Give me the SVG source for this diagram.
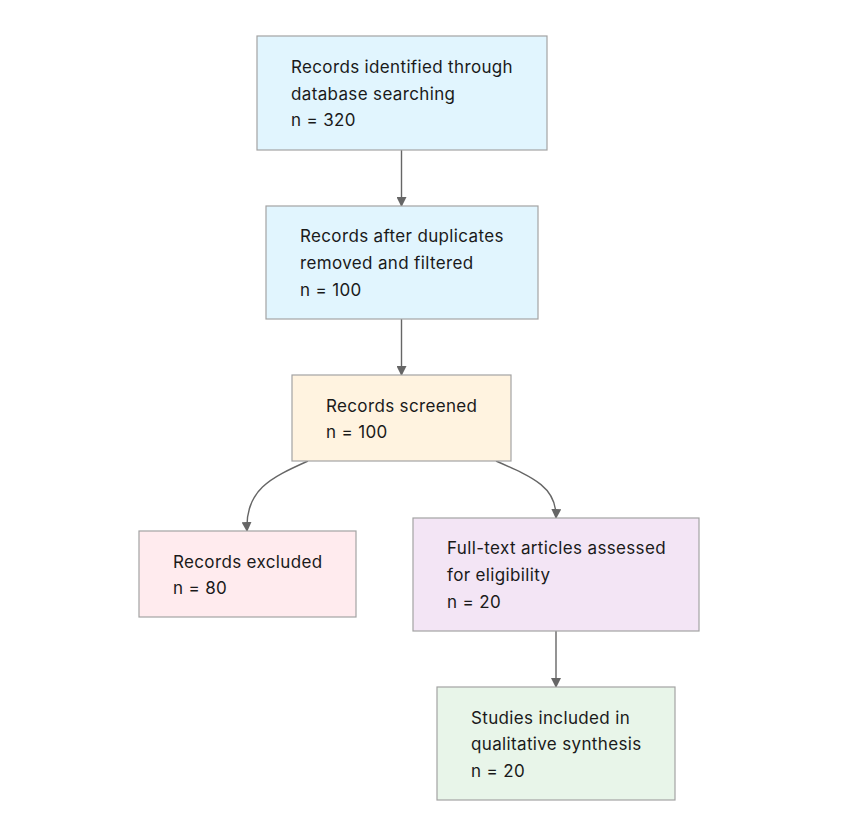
<svg xmlns="http://www.w3.org/2000/svg" width="854" height="826" viewBox="0 0 854 826">
<style>
rect{stroke:#a3a3a3;stroke-width:1.2}
text{font-family:Inter,"Liberation Sans",sans-serif;font-size:17px;letter-spacing:0.35px;fill:#1a1a1a}
.c{fill:none;stroke:#666;stroke-width:1.4}
</style>
<defs>
<marker id="a" viewBox="0 0 10 10" refX="9" refY="5" markerWidth="10" markerHeight="10" orient="auto" markerUnits="userSpaceOnUse"><path d="M0,0L10,5L0,10z" fill="#666"/></marker>
</defs>
<rect width="854" height="826" fill="#fff" style="stroke:none"/>
<g id="connectors">
<path class="c" d="M401.5,150V206" marker-end="url(#a)"/>
<path class="c" d="M401.5,319V375" marker-end="url(#a)"/>
<path class="c" d="M308,461C270,478 245,490 247,531" marker-end="url(#a)"/>
<path class="c" d="M496,461C535,478 557,488 556,518" marker-end="url(#a)"/>
<path class="c" d="M556,631V687" marker-end="url(#a)"/>
</g>
<g id="n1"><rect x="257" y="36" width="290" height="114" fill="#e1f5fe"/>
<text x="291" y="73">Records identified through</text><text x="291" y="100">database searching</text><text x="291" y="126">n = 320</text></g>
<g id="n2"><rect x="266" y="206" width="272" height="113" fill="#e1f5fe"/>
<text x="300" y="242">Records after duplicates</text><text x="300" y="269">removed and filtered</text><text x="300" y="296">n = 100</text></g>
<g id="n3"><rect x="292" y="375" width="219" height="86" fill="#fff3e0"/>
<text x="326" y="412">Records screened</text><text x="326" y="438">n = 100</text></g>
<g id="n4"><rect x="139" y="531" width="217" height="86" fill="#ffebee"/>
<text x="173" y="568">Records excluded</text><text x="173" y="594">n = 80</text></g>
<g id="n5"><rect x="413" y="518" width="286" height="113" fill="#f3e5f5"/>
<text x="447" y="554">Full-text articles assessed</text><text x="447" y="581">for eligibility</text><text x="447" y="608">n = 20</text></g>
<g id="n6"><rect x="437" y="687" width="238" height="113" fill="#e8f5e9"/>
<text x="471" y="724">Studies included in</text><text x="471" y="750">qualitative synthesis</text><text x="471" y="777">n = 20</text></g>
</svg>
